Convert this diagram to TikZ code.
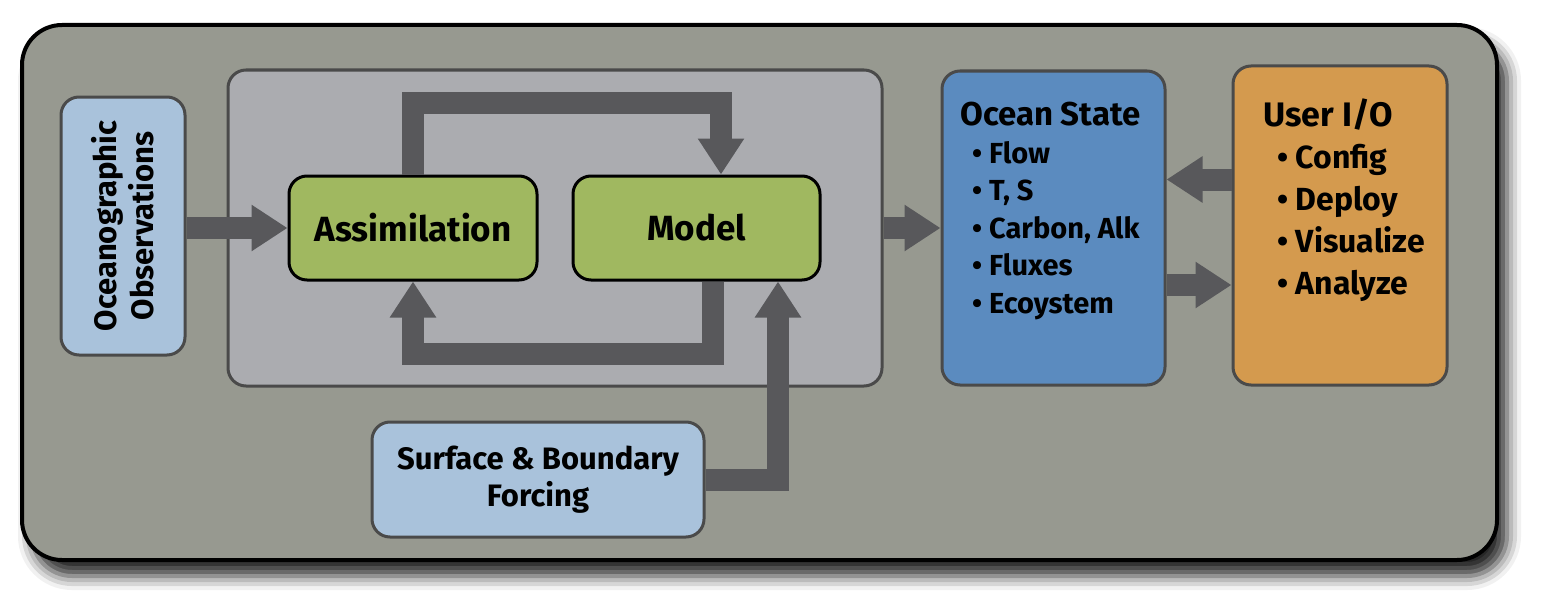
\documentclass[tikz,border=0pt]{standalone}
\usepackage{fontspec}
\setmainfont{Fira Sans}
\usetikzlibrary{arrows.meta,positioning,shadows.blur}

\definecolor{panelgray}{RGB}{151,153,144}
\definecolor{coregray}{RGB}{171,172,176}
\definecolor{lightblue}{RGB}{169,194,219}
\definecolor{leafgreen}{RGB}{160,184,96}
\definecolor{oceanblue}{RGB}{91,139,191}
\definecolor{userorange}{RGB}{212,154,78}
\definecolor{arrowgray}{RGB}{88,88,91}
\definecolor{edgegray}{RGB}{74,74,74}

\tikzset{box/.style={draw=edgegray, line width=3pt, rounded corners=18pt,
    inner sep=0pt, font=\bfseries\fontsize{31}{37}\selectfont, align=center},
  stepbox/.style={box, draw=black, fill=leafgreen,
    font=\bfseries\fontsize{35}{40}\selectfont},
  listtext/.style={inner sep=0pt, align=left, anchor=north west,
    font=\bfseries\fontsize{29}{37.5}\selectfont},
  fat/.style={draw=arrowgray, line width=22pt, line join=miter,
    -{Triangle[width=44pt,length=36pt]}}}

\begin{document}
\begin{tikzpicture}[x=1pt, y=-1pt]
  \useasboundingbox (0,0) rectangle (1560,610);
  % frame
  \draw [line width=4pt, rounded corners=40pt, fill=panelgray,
    blur shadow={shadow xshift=10pt, shadow yshift=-16pt,
      shadow blur radius=14pt, shadow opacity=85}]
    (22,25) rectangle (1497,560);

  % -- core
  \node [box, fill=coregray, minimum width=654pt, minimum height=316pt]
    (core) at (555,228) {};
  \node [stepbox, minimum width=248pt, minimum height=104pt]
    (assim) at (413,228) {Assimilation};
  \node [stepbox, minimum width=247pt, minimum height=104pt]
    (model) at (696.5,228) {Model};

  % inputs
  \node [box, fill=lightblue, minimum width=258pt, minimum height=124pt,
    rotate=90] (obs) at (123,226) {Oceanographic\\Observations};
  \node [box, fill=lightblue, minimum width=332pt, minimum height=115pt]
    (forcing) at (538,479.5) {Surface \& Boundary\\Forcing};

  % Ocean State
  \node [box, fill=oceanblue, minimum width=223pt, minimum height=314pt]
    (ocean) at (1053.5,228) {};
  \node [listtext] (oceanlist) at (960,102)
    {{\fontsize{33}{37}\selectfont Ocean State}\\
     \hspace*{12pt}• Flow\\
     \hspace*{12pt}• T, S\\
     \hspace*{12pt}• Carbon, Alk\\
     \hspace*{12pt}• Fluxes\\
     \hspace*{12pt}• Ecoystem};

  % User I/O
  \node [box, fill=userorange, minimum width=214pt, minimum height=319pt]
    (user) at (1340,225.5) {};
  \node [listtext, font=\bfseries\fontsize{32}{42}\selectfont] (userlist)
    at (1263,99)
    {{\fontsize{34}{37}\selectfont User I/O}\\
     \hspace*{14pt}• Config\\
     \hspace*{14pt}• Deploy\\
     \hspace*{14pt}• Visualize\\
     \hspace*{14pt}• Analyze};

  % arrows
  \draw [fat] (obs.south |- assim.west) -- (assim.west);
  \draw [fat] (assim.north) -- ++(0,-72) -| ([xshift=24.5pt]model.north);
  \draw [fat] ([xshift=16.5pt]model.south) -- ++(0,72) -| (assim.south);
  \draw [fat] (forcing.east) -| ([xshift=81.5pt]model.south);
  \draw [fat] (core.east) -- (ocean.west);
  \draw [fat] ([yshift=46pt]user.west) -- ([yshift=46pt]user.west -| ocean.east);
  \draw [fat] ([yshift=-57pt]ocean.east) -- ([yshift=-57pt]ocean.east -| user.west);
\end{tikzpicture}
\end{document}
